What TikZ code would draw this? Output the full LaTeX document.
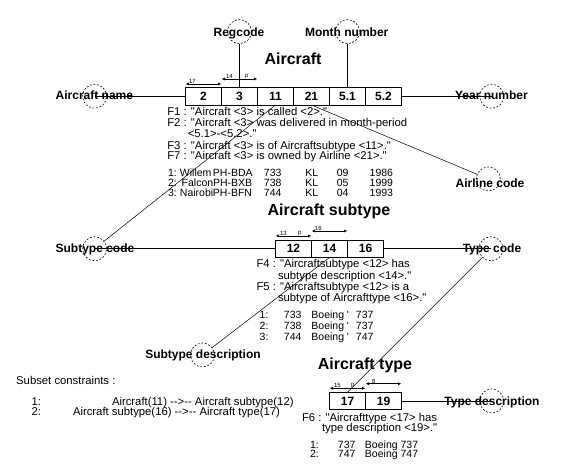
\documentclass[tikz,border=0pt]{standalone}
\usepackage{fontspec}
\newfontfamily\af{Liberation Sans}
\usetikzlibrary{arrows.meta}
\begin{document}
\begin{tikzpicture}[x=1pt,y=-1pt,
  every node/.style={inner sep=0pt, outer sep=0pt},
  cell/.style={draw, line width=0.8pt, minimum width=36pt, minimum height=17.5pt, font=\af\bfseries\fontsize{12}{14}\selectfont},
  lbl/.style={anchor=mid, font=\af\bfseries\fontsize{12}{14}\selectfont},
  ttl/.style={anchor=mid, font=\af\bfseries\fontsize{16}{19}\selectfont},
  txt/.style={anchor=mid west, font=\af\fontsize{11.3}{13}\selectfont},
  rowtxt/.style={anchor=mid west, font=\af\fontsize{10.5}{12}\selectfont},
  tinytxt/.style={anchor=south west, font=\af\fontsize{6}{7}\selectfont},
  role/.style={circle, draw, dash pattern=on 1.8pt off 1.8pt, line width=0.6pt, minimum size=24pt},
  conn/.style={line width=0.8pt},
  diag/.style={line width=0.5pt},
  ucarrow/.style={line width=0.7pt, {Latex[length=3.5pt,width=3pt]}-{Latex[length=3.5pt,width=3pt]}},
]
\fill[white] (0,0) rectangle (563,476);
\useasboundingbox (0,0) rectangle (563,476);

% ---------------- Aircraft ----------------
\node[cell] (a2)  at (203.5,96.25) {2};
\node[cell] (a3)  at (239.5,96.25) {3};
\node[cell] (a11) at (275.5,96.25) {11};
\node[cell] (a21) at (311.5,96.25) {21};
\node[cell] (a51) at (347.5,96.25) {5.1};
\node[cell] (a52) at (383.5,96.25) {5.2};

\node[role] (cReg)     at (239.5,31.6) {};
\node[role] (cMonth)   at (347.5,31.6) {};
\node[role] (cName)    at (94.6,96.25) {};
\node[role] (cYear)    at (491.7,96.25) {};
\node[role] (cAirline) at (488.3,179) {};

% ---------------- Aircraft subtype ----------------
\node[cell] (s12) at (293.5,248.75) {12};
\node[cell] (s14) at (329.5,248.75) {14};
\node[cell] (s16) at (365.5,248.75) {16};

\node[role] (cSubCode) at (94.6,248.75) {};
\node[role] (cType)    at (491,248.75) {};
\node[role] (cSubDesc) at (202.5,355) {};

% ---------------- Aircraft type ----------------
\node[cell] (t17) at (347.5,401) {17};
\node[cell] (t19) at (383.5,401) {19};
\node[role] (cTypeDesc) at (491.7,401) {};

% ---------------- connectors ----------------
\draw[conn] (cReg.south) -- (a3.north);
\draw[conn] (cMonth.south) -- (a51.north);
\draw[conn] (a2.west) -- (cName.center);
\draw[conn] (a52.east) -- (cYear.center);
\draw[diag] (a21.south) -- (cAirline);
\draw[diag] (a11.south) -- (cSubCode);
\draw[conn] (s12.west) -- (cSubCode.center);
\draw[conn] (s16.east) -- (cType.center);
\draw[diag] (s14.south) -- (cSubDesc);
\draw[diag] (t17.north) -- (cType);
\draw[conn] (t19.east) -- (cTypeDesc.center);

% uniqueness arrows
\draw[ucarrow] ([yshift=3.5pt]a2.north west) -- ([yshift=3.5pt]a2.north east);
\draw[ucarrow] ([yshift=8.5pt]a3.north west) -- ([yshift=8.5pt]a3.north east);
\node[tinytxt] (u17) at (189,83.3) {17};
\node[tinytxt] (u14) at (226,78.3) {14};
\node[tinytxt] (up1) at (245,78.3) {p};

\draw[ucarrow] ([yshift=4pt]s12.north west) -- ([yshift=4pt]s12.north east);
\draw[ucarrow] ([yshift=9pt]s14.north west) -- ([yshift=9pt]s14.north east);
\node[tinytxt] (u13) at (280,235.3) {13};
\node[tinytxt] (up2) at (298,235.3) {p};
\node[tinytxt] (u16) at (315,230.3) {16};

\draw[ucarrow] ([yshift=4pt]t17.north west) -- ([yshift=4pt]t17.north east);
\draw[ucarrow] ([yshift=8.5pt]t19.north west) -- ([yshift=8.5pt]t19.north east);
\node[tinytxt] (u15) at (334,388) {15};
\node[tinytxt] (up3) at (351,388) {p};
\node[tinytxt] (u8)  at (372,383.5) {8};

% ---------------- labels ----------------
\node[ttl] (tA) at (293,62) {Aircraft};
\node[ttl] (tS) at (329,213.6) {Aircraft subtype};
\node[ttl] (tT) at (365,367) {Aircraft type};

\node[lbl] (lReg)      at (239,34) {Regcode};
\node[lbl] (lMonth)    at (346.7,34) {Month number};
\node[lbl] (lName)     at (94.4,97) {Aircraft name};
\node[lbl] (lYear)     at (491.5,97) {Year number};
\node[lbl] (lAirline)  at (490,185.7) {Airline code};
\node[lbl] (lSubCode)  at (95,250) {Subtype code};
\node[lbl] (lType)     at (492,250) {Type code};
\node[lbl] (lSubDesc)  at (203,356.3) {Subtype description};
\node[lbl] (lTypeDesc) at (492,403) {Type description};

% ---------------- fact texts ----------------
\node[txt] (f1)  at (167.3,113.5) {F1 : "Aircraft <3> is called <2>."};
\node[txt] (f2)  at (167.3,124.3) {F2 : "Aircraft <3> was delivered in month-period};
\node[txt] (f2b) at (187.8,135.2) {<5.1>-<5.2>."};
\node[txt] (f3)  at (167.3,147)   {F3 : "Aircraft <3> is of Aircraftsubtype <11>."};
\node[txt] (f7)  at (167.3,157.8) {F7 : "Aircraft <3> is owned by Airline <21>."};

\node[rowtxt] (ar1) at (168,174.5) {\makebox[12pt][l]{1:}\makebox[33pt][l]{Willem}\makebox[51pt][l]{PH-BDA}\makebox[41.3pt][l]{733}\makebox[31.5pt][l]{KL}\makebox[32.9pt][l]{09}1986};
\node[rowtxt] (ar2) at (168,184.5) {\makebox[12pt][l]{2:}\makebox[33pt][l]{\,Falcon}\makebox[51pt][l]{PH-BXB}\makebox[41.3pt][l]{738}\makebox[31.5pt][l]{KL}\makebox[32.9pt][l]{05}1999};
\node[rowtxt] (ar3) at (168,194.5) {\makebox[12pt][l]{3:}\makebox[33pt][l]{Nairobi}\makebox[51pt][l]{PH-BFN}\makebox[41.3pt][l]{744}\makebox[31.5pt][l]{KL}\makebox[32.9pt][l]{04}1993};

\node[txt] (f4)  at (256.5,265.6) {F4 : "Aircraftsubtype <12> has};
\node[txt] (f4b) at (278,276.9)   {subtype description <14>."};
\node[txt] (f5)  at (256.5,288.4) {F5 : "Aircraftsubtype <12> is a};
\node[txt] (f5b) at (278,299.7)   {subtype of Aircrafttype <16>."};

\node[rowtxt] (sr1) at (259.7,316.5) {\makebox[24.3pt][l]{1:}\makebox[27.5pt][l]{733}\makebox[35.5pt][l]{Boeing}\makebox[9pt][l]{\char"0027}737};
\node[rowtxt] (sr2) at (259.7,327.5) {\makebox[24.3pt][l]{2:}\makebox[27.5pt][l]{738}\makebox[35.5pt][l]{Boeing}\makebox[9pt][l]{\char"0027}737};
\node[rowtxt] (sr3) at (259.7,338.5) {\makebox[24.3pt][l]{3:}\makebox[27.5pt][l]{744}\makebox[35.5pt][l]{Boeing}\makebox[9pt][l]{\char"0027}747};

\node[txt] (f6)  at (302,419)   {F6 : "Aircrafttype <17> has};
\node[txt] (f6b) at (322,429.1) {type description <19>."};
\node[rowtxt] (tr1) at (310,446)   {\makebox[28pt][l]{1:}\makebox[27pt][l]{737}Boeing 737};
\node[rowtxt] (tr2) at (310,455.6) {\makebox[28pt][l]{2:}\makebox[27pt][l]{747}Boeing 747};

% ---------------- subset constraints ----------------
\node[txt] (sc)   at (16.2,382.5) {Subset constraints :};
\node[txt] (sc1n) at (31.7,403.3) {1:};
\node[txt] (sc1)  at (112,403.3) {Aircraft(11) -->-- Aircraft subtype(12)};
\node[txt] (sc2n) at (31.7,413.5) {2:};
\node[txt] (sc2)  at (73,413.5) {Aircraft subtype(16) -->-- Aircraft type(17)};
\end{tikzpicture}
\end{document}
